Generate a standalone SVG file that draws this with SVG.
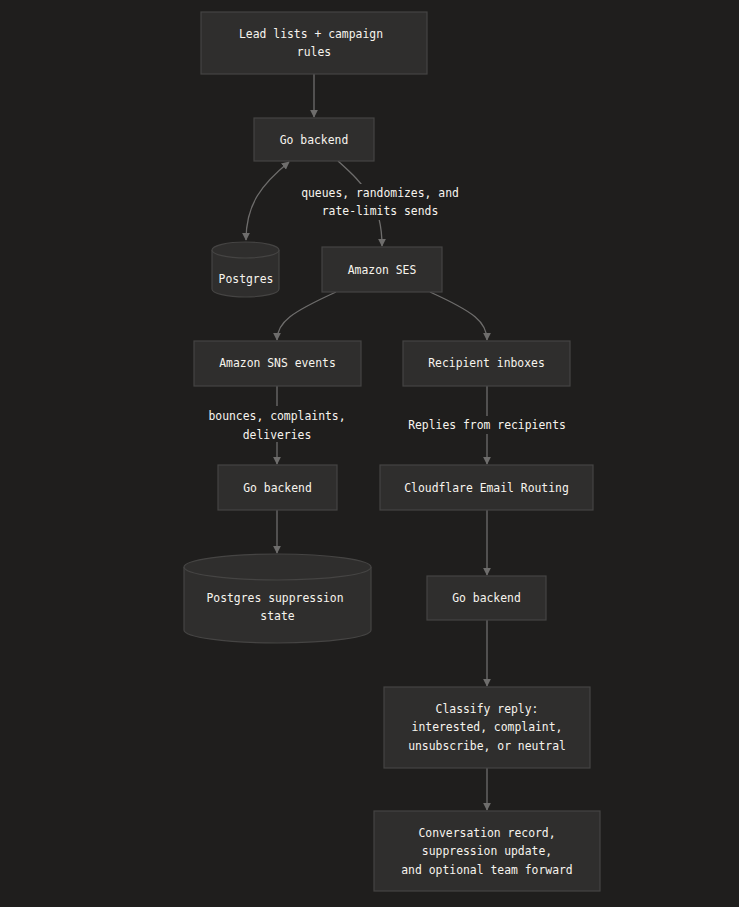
<svg xmlns="http://www.w3.org/2000/svg" width="739" height="907" viewBox="0 0 739 907">
<defs>
<marker id="arr" viewBox="0 0 10 10" refX="9" refY="5" markerWidth="8" markerHeight="8" markerUnits="userSpaceOnUse" orient="auto-start-reverse"><path d="M0,0 L10,5 L0,10 z" fill="#6e6d6c"/></marker>
<style>
.bg{fill:#1f1e1d}
.n{fill:#2f2e2d;stroke:#454443;stroke-width:1.2}
.t{font-family:"DejaVu Sans Mono","Liberation Mono",monospace;font-size:11.4px;fill:#f7f4ee;text-anchor:middle}
.e{fill:none;stroke:#6e6d6c;stroke-width:1.3}
.lb{fill:#1f1e1d}
</style>
</defs>
<rect class="bg" x="0" y="0" width="739" height="907"/>
<g id="connectors">
<path class="e" d="M314,74 L314,117" marker-end="url(#arr)"/>
<path class="e" d="M289,162 C262,184 246,204 246,240" marker-start="url(#arr)" marker-end="url(#arr)"/>
<path class="e" d="M338,161 C362,183 382,200 382,246" marker-end="url(#arr)"/>
<path class="e" d="M336,292 C292,312 277,322 277,340" marker-end="url(#arr)"/>
<path class="e" d="M430,292 C474,312 487,322 487,340" marker-end="url(#arr)"/>
<path class="e" d="M277,386 L277,464" marker-end="url(#arr)"/>
<path class="e" d="M487,386 L487,464" marker-end="url(#arr)"/>
<path class="e" d="M277,510 L277,553" marker-end="url(#arr)"/>
<path class="e" d="M487,510 L487,575" marker-end="url(#arr)"/>
<path class="e" d="M487,620 L487,686" marker-end="url(#arr)"/>
<path class="e" d="M487,768 L487,810" marker-end="url(#arr)"/>
<rect class="lb" x="299" y="184" width="162" height="36"/>
<text class="t" x="380" y="197">queues, randomizes, and</text>
<text class="t" x="380" y="215">rate-limits sends</text>
<rect class="lb" x="203" y="406" width="150" height="36"/>
<text class="t" x="277" y="420">bounces, complaints,</text>
<text class="t" x="277" y="439">deliveries</text>
<rect class="lb" x="406" y="416" width="162" height="18"/>
<text class="t" x="487" y="429">Replies from recipients</text>
</g>
<g id="lead">
<rect class="n" x="201" y="12" width="226" height="62"/>
<text class="t" x="311" y="38">Lead lists + campaign</text>
<text class="t" x="314" y="56">rules</text>
</g>
<g id="go1">
<rect class="n" x="254" y="118" width="120" height="43"/>
<text class="t" x="314" y="144">Go backend</text>
</g>
<g id="pg">
<path class="n" d="M212,250 A33.5,8 0 0 1 279,250 L279,289 A33.5,8 0 0 1 212,289 Z"/>
<path class="n" d="M212,250 A33.5,8 0 0 0 279,250" fill="none"/>
<text class="t" x="246" y="283">Postgres</text>
</g>
<g id="ses">
<rect class="n" x="322" y="247" width="120" height="45"/>
<text class="t" x="382" y="274">Amazon SES</text>
</g>
<g id="sns">
<rect class="n" x="194" y="341" width="167" height="45"/>
<text class="t" x="277.5" y="367">Amazon SNS events</text>
</g>
<g id="inbox">
<rect class="n" x="403" y="341" width="167" height="45"/>
<text class="t" x="486.5" y="367">Recipient inboxes</text>
</g>
<g id="go2">
<rect class="n" x="218" y="465" width="119" height="45"/>
<text class="t" x="277.5" y="492">Go backend</text>
</g>
<g id="pgsup">
<path class="n" d="M184,567 A93.5,13 0 0 1 371,567 L371,630 A93.5,13 0 0 1 184,630 Z"/>
<path class="n" d="M184,567 A93.5,13 0 0 0 371,567" fill="none"/>
<text class="t" x="275" y="602">Postgres suppression</text>
<text class="t" x="277.5" y="620">state</text>
</g>
<g id="cf">
<rect class="n" x="380" y="465" width="213" height="45"/>
<text class="t" x="486.5" y="492">Cloudflare Email Routing</text>
</g>
<g id="go3">
<rect class="n" x="427" y="576" width="119" height="44"/>
<text class="t" x="486.5" y="602">Go backend</text>
</g>
<g id="classify">
<rect class="n" x="384" y="687" width="206" height="81"/>
<text class="t" x="487" y="713">Classify reply:</text>
<text class="t" x="487" y="731">interested, complaint,</text>
<text class="t" x="487" y="750">unsubscribe, or neutral</text>
</g>
<g id="conv">
<rect class="n" x="374" y="811" width="226" height="80"/>
<text class="t" x="487" y="837">Conversation record,</text>
<text class="t" x="487" y="855">suppression update,</text>
<text class="t" x="487" y="874">and optional team forward</text>
</g>
</svg>
